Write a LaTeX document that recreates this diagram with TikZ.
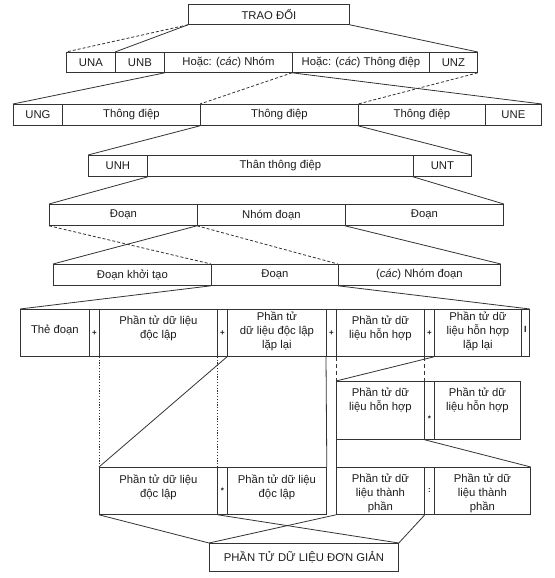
\documentclass[tikz,border=0pt]{standalone}
\usepackage{fontspec}
\setmainfont{Liberation Sans}
\usetikzlibrary{positioning}
\definecolor{edink}{HTML}{333333}
\definecolor{edtext}{HTML}{1C1C1C}
\tikzset{
  cell/.style={draw=edink, line width=0.8pt, anchor=north west, inner sep=0pt, align=center, text=edtext},
  wd/.style={minimum width=#1pt},
  ht/.style={minimum height=#1pt},
  txt/.style={align=center, inner sep=0pt, text=edtext},
  sym/.style={inner sep=0pt, text=edtext, font=\fontsize{8}{9}\selectfont\bfseries},
  ln/.style={draw=edink, line width=0.8pt},
  dsh/.style={ln, dash pattern=on 3pt off 2pt},
  dsh2/.style={ln, dash pattern=on 4pt off 3pt},
  dot/.style={ln, dash pattern=on 1.2pt off 1.6pt},
}

\begin{document}
\begin{tikzpicture}[x=1pt, y=-1pt, font=\fontsize{11.3}{14}\selectfont]
  \useasboundingbox (0,0) rectangle (554,578);
  % level 0
  \node[cell, wd=161, ht=20] (trao) at (188,4) {TRAO ĐỔI};
  % level 1
  \node[cell, wd=49, ht=20] (una) at (66,52) {UNA};
  \node[cell, wd=49, ht=20] (unb) at (115,52) {UNB};
  \node[cell, wd=128, ht=20] (hnhom) at (164,52) {Hoặc: (\textit{các}) Nhóm};
  \node[cell, wd=137, ht=20] (htd) at (292,52) {Hoặc: (\textit{các}) Thông điệp};
  \node[cell, wd=48, ht=20] (unz) at (429,52) {UNZ};
  % level 2
  \node[cell, wd=49, ht=21] (ung) at (13,104) {UNG};
  \node[cell, wd=138, ht=21] (td1) at (62,104) {Thông điệp};
  \node[cell, wd=158, ht=21] (td2) at (200,104) {Thông điệp};
  \node[cell, wd=127, ht=21] (td3) at (358,104) {Thông điệp};
  \node[cell, wd=56, ht=21] (une) at (485,104) {UNE};
  % level 3
  \node[cell, wd=59, ht=21] (unh) at (88,155) {UNH};
  \node[cell, wd=266, ht=21] (than) at (147,155) {Thân thông điệp};
  \node[cell, wd=58, ht=21] (unt) at (413,155) {UNT};
  % level 4
  \node[cell, wd=148, ht=21] (doan1) at (49,204) {Đoạn};
  \node[cell, wd=148, ht=21] (nhomdoan) at (197,204) {Nhóm đoạn};
  \node[cell, wd=158, ht=21] (doan2) at (345,204) {Đoạn};
  % level 5
  \node[cell, wd=158, ht=21] (khoi) at (53,264) {Đoạn khởi tạo};
  \node[cell, wd=127, ht=21] (doan3) at (211,264) {Đoạn};
  \node[cell, wd=162, ht=21] (cacnhom) at (338,264) {(\textit{các}) Nhóm đoạn};
  % level 6
  \node[cell, wd=69, ht=47] (the) at (20,309) {};
  \node[cell, wd=10, ht=47] (p1) at (89,309) {};
  \node[cell, wd=118, ht=47] (dl) at (99,309) {};
  \node[cell, wd=10, ht=47] (p2) at (217,309) {};
  \node[cell, wd=99, ht=47] (dlr) at (227,309) {};
  \node[cell, wd=10, ht=47] (p3) at (326,309) {};
  \node[cell, wd=88, ht=47] (hh) at (336,309) {};
  \node[cell, wd=10, ht=47] (p4) at (424,309) {};
  \node[cell, wd=87, ht=47] (hhr) at (434,309) {};
  \node[cell, wd=8, ht=47] (bar) at (521,309) {};
  \node[txt] (tthe) at ([yshift=3pt]the.center) {Thẻ đoạn};
  \node[txt] (tdl) at ([yshift=5pt]dl.center) {Phần tử dữ liệu\\độc lập};
  \node[txt] (tdlr) at ([yshift=2pt]dlr.center) {Phần tử\\dữ liệu độc lập\\lặp lại};
  \node[txt] (thh) at ([yshift=5pt]hh.center) {Phần tử dữ\\liệu hỗn hợp};
  \node[txt] (thhr) at ([yshift=2pt]hhr.center) {Phần tử dữ\\liệu hỗn hợp\\lặp lại};
  \foreach \c in {p1,p2,p3,p4} \node[sym] (s\c) at (\c.center) {+};
  \node[sym, font=\fontsize{9}{10}\selectfont\bfseries] (sbar) at ([yshift=3pt]bar.center) {I};
  % level 7
  \node[cell, wd=88, ht=58] (hh1) at (336,381) {};
  \node[cell, wd=10, ht=58] (st1) at (424,381) {};
  \node[cell, wd=86, ht=58] (hh2) at (434,381) {};
  \node[txt] (thh1) at ([yshift=10pt]hh1.center) {Phần tử dữ\\liệu hỗn hợp};
  \node[txt] (thh2) at ([yshift=10pt]hh2.center) {Phần tử dữ\\liệu hỗn hợp};
  \node[sym] (sst1) at ([yshift=-8pt]st1.center) {*};
  % level 8
  \node[cell, wd=118, ht=47] (dl1) at (99,467) {};
  \node[cell, wd=10, ht=47] (st2) at (217,467) {};
  \node[cell, wd=99, ht=47] (dl2) at (227,467) {};
  \node[cell, wd=88, ht=47] (tp1) at (336,467) {};
  \node[cell, wd=10, ht=47] (co) at (424,467) {};
  \node[cell, wd=96, ht=47] (tp2) at (434,467) {};
  \node[txt] (tdl1) at ([yshift=4pt]dl1.center) {Phần tử dữ liệu\\độc lập};
  \node[txt] (tdl2) at ([yshift=4pt]dl2.center) {Phần tử dữ liệu\\độc lập};
  \node[txt] (ttp1) at ([yshift=-2pt]tp1.center) {Phần tử dữ\\liệu thành\\phần};
  \node[txt] (ttp2) at ([yshift=-2pt]tp2.center) {Phần tử dữ\\liệu thành\\phần};
  \node[sym] (sst2) at (st2.center) {*};
  \node[sym] (sco) at (co.center) {:};
  % level 9
  \node[cell, wd=189, ht=28] (dd) at (209,543) {PHẦN TỬ DỮ LIỆU ĐƠN GIẢN};

  % connectors
  \draw[dsh] (trao.south west) -- (una.north west);
  \draw[ln] (trao.south west) -- (unb.north west);
  \draw[ln] (trao.south east) -- (unz.north east);
  \draw[ln] (unb.south east) -- (ung.north west);
  \draw[dsh] (htd.south west) -- (td2.north west);
  \draw[ln] (htd.south west) -- (une.north east);
  \draw[dsh] (unz.south east) -- (td3.north west);
  \draw[ln] (td2.south west) -- (unh.north west);
  \draw[ln] (td3.south west) -- (unt.north east);
  \draw[ln] (unh.south east) -- (doan1.north west);
  \draw[ln] (unt.south west) -- (doan2.north east);
  \draw[dsh] (doan1.south west) -- (doan3.north west);
  \draw[ln] (nhomdoan.south west) -- (khoi.north west);
  \draw[dsh] (nhomdoan.south west) -- (cacnhom.north west);
  \draw[ln] (doan2.south west) -- (cacnhom.north east);
  \draw[ln] (doan3.south west) -- (the.north west);
  \draw[ln] (cacnhom.south west) -- (bar.north east);
  \draw[dot] (dl.south west) -- (dl1.north west);
  \draw[dot] (dl.south east) -- (dl1.north east);
  \draw[ln] (dlr.south west) -- (dl1.north west);
  \draw[ln] (p3.south west) -- (dl2.north east);
  \draw[dsh2] (hh.south west) -- (hh1.north west);
  \draw[dsh2] (hh.south east) -- (hh1.north east);
  \draw[ln] (hhr.south west) -- (hh1.north west);
  \draw[ln] (hh1.south west) -- (tp1.north west);
  \draw[ln] (hh1.south east) -- (tp2.north east);
  \draw[ln] (dl1.south west) -- (dd.north west);
  \draw[ln] (dl1.south east) -- (dd.north east);
  \draw[ln] (tp1.south west) -- (dd.north west);
  \draw[ln] (tp1.south east) -- (dd.north east);
\end{tikzpicture}
\end{document}
